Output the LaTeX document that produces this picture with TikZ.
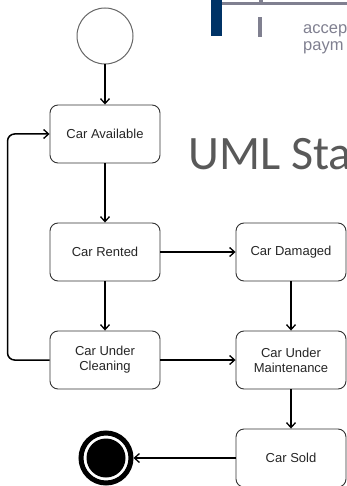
\documentclass[tikz,border=0pt]{standalone}
\usepackage{fontspec}
\setmainfont{Liberation Sans}
\newfontfamily\titlefont{Carlito}
\usetikzlibrary{arrows.meta}
\definecolor{navy}{RGB}{0,51,102}
\definecolor{slidegrey}{RGB}{128,128,144}
\definecolor{titlegrey}{RGB}{89,89,89}
\tikzset{
  statebox/.style={draw=black!80, line width=0.9pt, rounded corners=8pt, fill=white,
    minimum width=110pt, minimum height=58pt, align=center,
    font=\fontsize{13}{15}\selectfont, text=black!85},
  flow/.style={line width=1.5pt, -{Straight Barb[length=5pt,width=9pt,line width=1.3pt]}},
  slidetext/.style={anchor=base west, inner sep=0pt, text=slidegrey, font=\fontsize{16.5}{18}\selectfont},
}
\begin{document}
\begin{tikzpicture}[x=1pt,y=-1pt]
\useasboundingbox (0,0) rectangle (347,486);
\clip (0,0) rectangle (347,486);
% background slide fragments
\fill[navy] (211,0) rectangle (222,36);
\fill[slidegrey] (222,2) rectangle (347,5);
\fill[slidegrey] (259,0) rectangle (263,3);
\fill[slidegrey] (258,17) rectangle (262,37);
\node[slidetext] (t1) at (303,34) {accep};
\node[slidetext] (t2) at (303,51) {paym};
\node[anchor=base west, inner sep=0pt, text=titlegrey, font=\titlefont\fontsize{48}{50}\selectfont] (title) at (188,170) {UML Sta};
% states
\node[circle, draw=black!60, line width=1pt, fill=white, minimum size=56pt, inner sep=0pt] (init) at (105,36) {};
\node[statebox] (avail) at (105,134) {Car Available};
\node[statebox] (rented) at (105,252) {Car Rented};
\node[statebox] (damaged) at (291,252) {Car Damaged};
\node[statebox] (clean) at (105,360) {Car Under\\Cleaning};
\node[statebox] (maint) at (291,360) {Car Under\\Maintenance};
\node[statebox] (sold) at (291,458) {Car Sold};
\node[circle, draw=black, line width=5pt, minimum size=50pt, inner sep=0pt] (final) at (106,458) {};
\fill[black] (final.center) circle (19.5pt);
% transitions
\draw[flow] (init) -- (avail);
\draw[flow] (avail) -- (rented);
\draw[flow] (rented) -- (damaged);
\draw[flow] (rented) -- (clean);
\draw[flow] (damaged) -- (maint);
\draw[flow] (clean) -- (maint);
\draw[flow] (maint) -- (sold);
\draw[flow] (sold) -- (final);
\draw[flow, rounded corners=7pt] (clean.west) -- ++(-42,0) |- (avail.west);
\end{tikzpicture}
\end{document}
